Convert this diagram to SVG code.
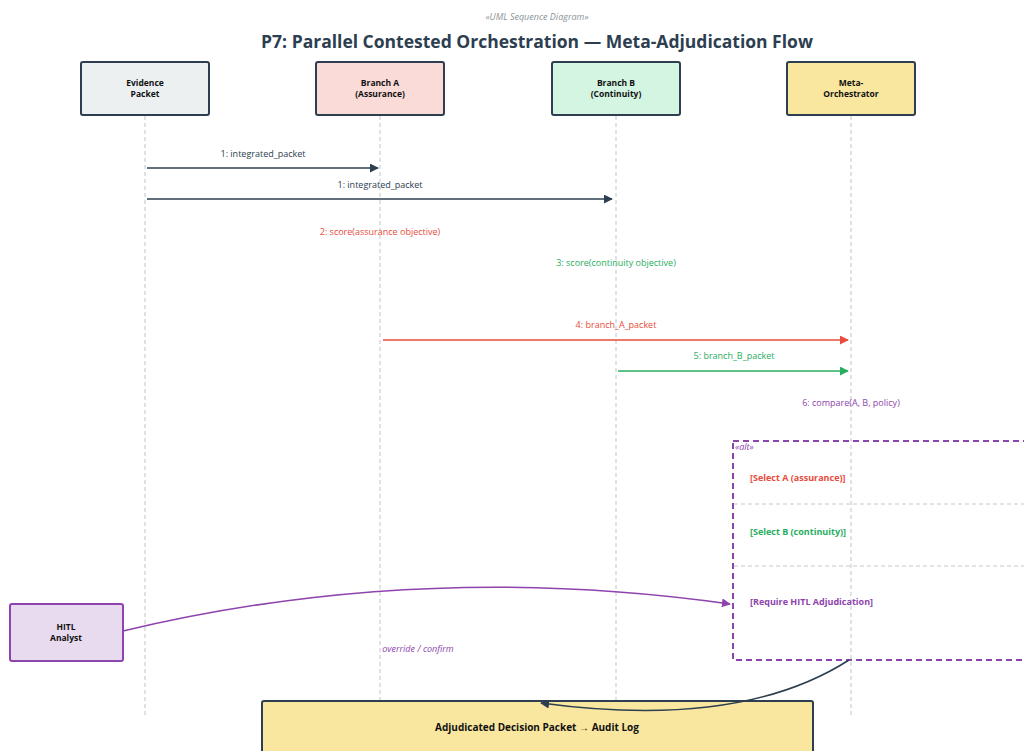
<svg xmlns="http://www.w3.org/2000/svg" width="1024" height="751" viewBox="0 0 1024 751">
  <style>
    text { font-family: "Open Sans", "Noto Sans", "Liberation Sans", sans-serif; }
    .node { stroke: #2c3e50; stroke-width: 2; }
    .nlabel { font-size: 8.5px; font-weight: bold; fill: #111; text-anchor: middle; }
    .life { stroke: #c0c4c8; stroke-width: 1; stroke-dasharray: 4 3; fill: none; }
    .msg { font-size: 9px; text-anchor: middle; }
    .guard { font-size: 9px; font-weight: bold; }
  </style>
  <defs>
    <marker id="ah-dark" viewBox="0 0 10 10" refX="9" refY="5" markerWidth="6" markerHeight="6" orient="auto"><path d="M0,0 L10,5 L0,10 z" fill="#2c3e50"/></marker>
    <marker id="ah-red" viewBox="0 0 10 10" refX="9" refY="5" markerWidth="6" markerHeight="6" orient="auto"><path d="M0,0 L10,5 L0,10 z" fill="#e74c3c"/></marker>
    <marker id="ah-green" viewBox="0 0 10 10" refX="9" refY="5" markerWidth="6" markerHeight="6" orient="auto"><path d="M0,0 L10,5 L0,10 z" fill="#27ae60"/></marker>
    <marker id="ah-purple" viewBox="0 0 10 10" refX="9" refY="5" markerWidth="6" markerHeight="6" orient="auto"><path d="M0,0 L10,5 L0,10 z" fill="#8e44ad"/></marker>
  </defs>
  <rect width="1024" height="751" fill="#ffffff"/>

  <text x="537" y="20" font-size="9" font-style="italic" fill="#8a9499" text-anchor="middle">«UML Sequence Diagram»</text>
  <text x="537" y="48" font-size="17.5" font-weight="bold" fill="#2c3e50" text-anchor="middle">P7: Parallel Contested Orchestration — Meta-Adjudication Flow</text>

  <!-- lifelines -->
  <g id="lifelines">
    <line class="life" x1="145" y1="116" x2="145" y2="715"/>
    <line class="life" x1="380" y1="116" x2="380" y2="715"/>
    <line class="life" x1="616" y1="116" x2="616" y2="715"/>
    <line class="life" x1="851" y1="116" x2="851" y2="715"/>
  </g>

  <!-- alt combined fragment -->
  <g id="alt-frame">
    <rect x="733" y="441" width="310" height="219" fill="none" stroke="#8e44ad" stroke-width="2" stroke-dasharray="6 4"/>
    <line x1="734" y1="504" x2="1024" y2="504" stroke="#c8c8c8" stroke-width="1" stroke-dasharray="4 3"/>
    <line x1="734" y1="566" x2="1024" y2="566" stroke="#c8c8c8" stroke-width="1" stroke-dasharray="4 3"/>
    <text x="735" y="450" font-size="9" font-style="italic" fill="#8e44ad">«alt»</text>
    <text class="guard" x="750" y="481" fill="#e74c3c">[Select A (assurance)]</text>
    <text class="guard" x="750" y="535" fill="#27ae60">[Select B (continuity)]</text>
    <text class="guard" x="750" y="605" fill="#8e44ad">[Require HITL Adjudication]</text>
  </g>

  <!-- participants -->
  <g id="evidence-packet">
    <rect class="node" x="81" y="62" width="128" height="53" rx="2" fill="#ecf0f1"/>
    <text class="nlabel" x="145" y="86">Evidence</text>
    <text class="nlabel" x="145" y="96.5">Packet</text>
  </g>
  <g id="branch-a">
    <rect class="node" x="316" y="62" width="128" height="53" rx="2" fill="#fadbd8"/>
    <text class="nlabel" x="380" y="86">Branch A</text>
    <text class="nlabel" x="380" y="96.5">(Assurance)</text>
  </g>
  <g id="branch-b">
    <rect class="node" x="552" y="62" width="128" height="53" rx="2" fill="#d5f5e3"/>
    <text class="nlabel" x="616" y="86">Branch B</text>
    <text class="nlabel" x="616" y="96.5">(Continuity)</text>
  </g>
  <g id="meta-orchestrator">
    <rect class="node" x="787" y="62" width="128" height="53" rx="2" fill="#f9e79f"/>
    <text class="nlabel" x="851" y="86">Meta-</text>
    <text class="nlabel" x="851" y="96.5">Orchestrator</text>
  </g>
  <g id="hitl-analyst">
    <rect x="10" y="604" width="113" height="57" rx="2" fill="#e8daef" stroke="#8e44ad" stroke-width="2"/>
    <text class="nlabel" x="66" y="630">HITL</text>
    <text class="nlabel" x="66" y="640.5">Analyst</text>
  </g>
  <g id="decision-packet">
    <rect class="node" x="262" y="701" width="551" height="60" rx="2" fill="#f9e79f"/>
    <text x="537" y="731" font-size="10" font-weight="bold" fill="#111" text-anchor="middle">Adjudicated Decision Packet → Audit Log</text>
  </g>

  <!-- messages -->
  <g id="connectors">
    <line x1="147" y1="168" x2="378" y2="168" stroke="#2c3e50" stroke-width="1.5" marker-end="url(#ah-dark)"/>
    <text class="msg" x="263" y="157" fill="#2c3e50">1: integrated_packet</text>
    <line x1="147" y1="199" x2="612" y2="199" stroke="#2c3e50" stroke-width="1.5" marker-end="url(#ah-dark)"/>
    <text class="msg" x="380" y="188" fill="#2c3e50">1: integrated_packet</text>

    <text class="msg" x="380" y="235" fill="#e74c3c">2: score(assurance objective)</text>
    <text class="msg" x="616" y="266" fill="#27ae60">3: score(continuity objective)</text>

    <line x1="383" y1="340" x2="848" y2="340" stroke="#e74c3c" stroke-width="1.5" marker-end="url(#ah-red)"/>
    <text class="msg" x="616" y="328" fill="#e74c3c">4: branch_A_packet</text>
    <line x1="618" y1="371" x2="848" y2="371" stroke="#27ae60" stroke-width="1.5" marker-end="url(#ah-green)"/>
    <text class="msg" x="734" y="359" fill="#27ae60">5: branch_B_packet</text>

    <text class="msg" x="851" y="406" fill="#8e44ad">6: compare(A, B, policy)</text>

    <path d="M123,631 Q420,560 730,604" fill="none" stroke="#8e44ad" stroke-width="1.5" marker-end="url(#ah-purple)"/>
    <text x="418" y="652" font-size="9" font-style="italic" fill="#8e44ad" text-anchor="middle">override / confirm</text>

    <path d="M849,660 Q740,730 541,703" fill="none" stroke="#2c3e50" stroke-width="1.5" marker-end="url(#ah-dark)"/>
  </g>
</svg>
